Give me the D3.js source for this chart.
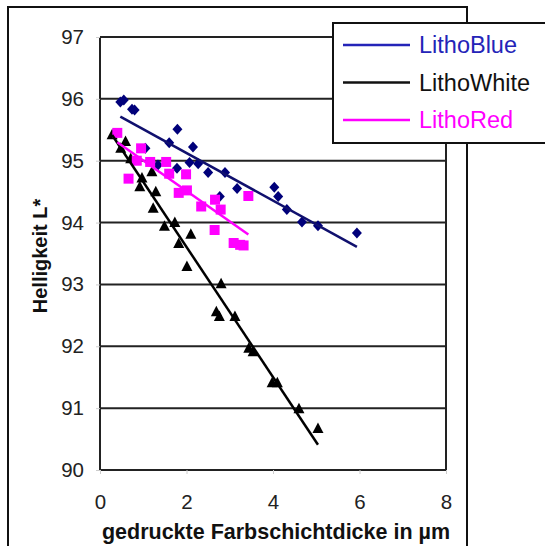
<!DOCTYPE html>
<html><head><meta charset="utf-8">
<script src="https://cdn.jsdelivr.net/npm/d3@7"></script>
<style>html,body{margin:0;padding:0;background:#fff;}svg{display:block;}</style>
</head><body>
<script>
// ---- data ----
const xTicks = [0, 2, 4, 6, 8];
const yTicks = [90, 91, 92, 93, 94, 95, 96, 97];
const seriesNames = ["LithoBlue", "LithoWhite", "LithoRed"];

const blueX = [0.47,0.55,0.74,0.80,1.05,1.79,1.60,2.15,1.34,1.78,2.07,2.27,2.50,2.89,2.77,3.17,4.03,4.12,4.32,4.67,5.04,5.94];
const blueY = [95.95,95.98,95.83,95.82,95.20,95.51,95.29,95.22,94.93,94.88,94.97,94.95,94.81,94.81,94.42,94.55,94.57,94.42,94.21,94.01,93.95,93.83];

const whiteX = [0.28,0.59,0.48,0.71,0.97,0.92,1.20,1.29,1.23,1.49,1.73,1.82,2.10,2.01,2.80,2.69,2.76,3.12,3.44,3.54,3.98,4.10,4.60,5.04];
const whiteY = [95.42,95.31,95.20,95.03,94.72,94.58,94.82,94.50,94.23,93.94,94.00,93.66,93.81,93.29,93.01,92.56,92.48,92.48,91.97,91.91,91.41,91.41,90.99,90.67];

const redX = [0.40,0.95,0.85,1.16,0.66,1.53,1.60,1.99,1.82,2.01,2.34,2.66,2.79,2.65,3.09,3.24,3.32,3.43];
const redY = [95.45,95.20,95.00,94.98,94.71,94.98,94.79,94.78,94.48,94.52,94.26,94.37,94.21,93.88,93.67,93.64,93.63,94.43];

// ---- layout ----
const W = 545, H = 546;
const plot = {left: 100, top: 37, right: 446, bottom: 470};
const colors = {
  blueMarker: "#00007a", blueLine: "#10106e", blueLegend: "#2424b8",
  white: "#000000", red: "#ff00ff"
};

const svg = d3.select("body").append("svg").attr("width", W).attr("height", H);
svg.append("rect").attr("width", W).attr("height", H).attr("fill", "#fff");

// outer frame
svg.append("rect").attr("x", 8).attr("y", 7).attr("width", 459).attr("height", 560)
  .attr("fill", "none").attr("stroke", "#111").attr("stroke-width", 2);

const x = d3.scaleLinear().domain([0, 8]).range([plot.left, plot.right]);
const y = d3.scaleLinear().domain([90, 97]).range([plot.bottom, plot.top]);

// gridlines
svg.append("g").selectAll("line").data(yTicks).join("line")
  .attr("x1", plot.left).attr("x2", plot.right)
  .attr("y1", d => y(d)).attr("y2", d => y(d))
  .attr("stroke", "#222").attr("stroke-width", 2);
// side borders of plot area
svg.append("line").attr("x1", plot.left).attr("x2", plot.left).attr("y1", plot.top).attr("y2", plot.bottom)
  .attr("stroke", "#222").attr("stroke-width", 2);
svg.append("line").attr("x1", plot.right).attr("x2", plot.right).attr("y1", plot.top).attr("y2", plot.bottom)
  .attr("stroke", "#222").attr("stroke-width", 2);

// axes (labels)
const font = "'Liberation Sans', Arial, sans-serif";
const yAxis = svg.append("g").attr("transform", `translate(${plot.left},0)`)
  .call(d3.axisLeft(y).tickValues(yTicks).tickSize(4).tickPadding(12).tickFormat(d3.format("d")));
const xAxis = svg.append("g").attr("transform", `translate(0,${plot.bottom})`)
  .call(d3.axisBottom(x).tickValues(xTicks).tickSize(4).tickPadding(20).tickFormat(d3.format("d")));
[yAxis, xAxis].forEach(g => {
  g.select(".domain").remove();
  g.selectAll(".tick line").attr("stroke", "#ccc");
  g.selectAll("text").attr("font-family", font).attr("font-size", 20.5).attr("fill", "#222");
});

// axis titles
svg.append("text").attr("x", 276).attr("y", 539).attr("text-anchor", "middle")
  .attr("font-family", font).attr("font-weight", "bold").attr("font-size", 21.5).attr("fill", "#111")
  .text("gedruckte Farbschichtdicke in µm");
svg.append("text").attr("transform", "translate(47,256) rotate(-90)").attr("text-anchor", "middle")
  .attr("font-family", font).attr("font-weight", "bold").attr("font-size", 20).attr("fill", "#111")
  .text("Helligkeit L*");

// regression helper
function fit(xs, ys) {
  const n = xs.length, mx = d3.mean(xs), my = d3.mean(ys);
  let sxy = 0, sxx = 0;
  for (let i = 0; i < n; i++) { sxy += (xs[i]-mx)*(ys[i]-my); sxx += (xs[i]-mx)**2; }
  const b = sxy / sxx, a = my - b * mx;
  const x0 = d3.min(xs), x1 = d3.max(xs);
  return [[x0, a + b*x0], [x1, a + b*x1]];
}

const series = [
  {xs: blueX, ys: blueY, marker: "diamond", mColor: colors.blueMarker, lColor: colors.blueLine},
  {xs: whiteX, ys: whiteY, marker: "triangle", mColor: colors.white, lColor: colors.white},
  {xs: redX, ys: redY, marker: "square", mColor: colors.red, lColor: colors.red}
];

const symbolPath = {
  diamond: "M0,-5.5L5,0L0,5.5L-5,0Z",
  triangle: "M0,-6L5.5,4.5L-5.5,4.5Z",
  square: "M-5,-5H5V5H-5Z"
};

const line = d3.line().x(d => x(d[0])).y(d => y(d[1]));
series.forEach(s => {
  const pts = s.xs.map((v, i) => [v, s.ys[i]]);
  svg.append("g").selectAll("path").data(pts).join("path")
    .attr("d", symbolPath[s.marker])
    .attr("transform", d => `translate(${x(d[0])},${y(d[1])})`)
    .attr("fill", s.mColor);
});
series.forEach(s => {
  svg.append("path").attr("d", line(fit(s.xs, s.ys)))
    .attr("fill", "none").attr("stroke", s.lColor).attr("stroke-width", 2.5);
});

// legend
const lg = svg.append("g");
lg.append("rect").attr("x", 333).attr("y", 23).attr("width", 230).attr("height", 120)
  .attr("fill", "#fff").attr("stroke", "#111").attr("stroke-width", 2);
const legendColors = [colors.blueLegend, "#111", colors.red];
seriesNames.forEach((name, i) => {
  const yy = 45 + i * 37.5;
  lg.append("line").attr("x1", 343).attr("x2", 410).attr("y1", yy).attr("y2", yy)
    .attr("stroke", legendColors[i]).attr("stroke-width", 2.5);
  lg.append("text").attr("x", 419).attr("y", yy + 8).attr("font-family", font).attr("font-size", 23.5)
    .attr("fill", legendColors[i]).text(name);
});
</script>
</body></html>
